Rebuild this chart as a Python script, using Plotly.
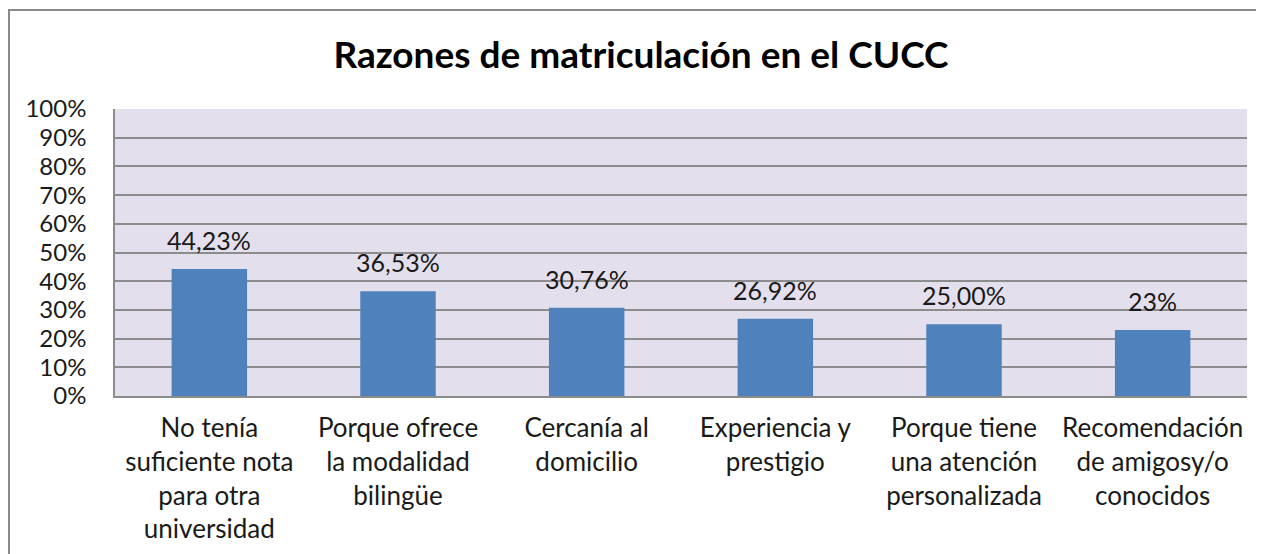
import plotly.graph_objects as go

categories = [
    "No tenía<br>suficiente nota<br>para otra<br>universidad",
    "Porque ofrece<br>la modalidad<br>bilingüe",
    "Cercanía al<br>domicilio",
    "Experiencia y<br>prestigio",
    "Porque tiene<br>una atención<br>personalizada",
    "Recomendación<br>de amigosy/o<br>conocidos",
]
values = [0.4423, 0.3653, 0.3076, 0.2692, 0.2500, 0.23]
value_labels = ["44,23%", "36,53%", "30,76%", "26,92%", "25,00%", "23%"]
title_text = "Razones de matriculación en el CUCC"

FONT = "Lato"
TXT = "#1a1a1a"
GRID = "#8c8c8c"

W, H = 1256, 546
ML, MR, MT, MB = 107, 17, 101, 158
PW, PH = W - ML - MR, H - MT - MB

fig = go.Figure()
fig.add_trace(go.Bar(
    x=categories, y=values,
    marker=dict(color="#4F81BD", line=dict(width=0)),
    hoverinfo="skip",
))

for c, v, t in zip(categories, values, value_labels):
    fig.add_annotation(x=c, y=v, text=t, showarrow=False, yanchor="bottom",
                       yshift=12, font=dict(family=FONT, size=25, color=TXT))

fig.add_shape(type="rect", xref="paper", yref="paper",
              x0=(1 - ML) / PW, x1=1.05, y0=-1.0, y1=(MT + PH - 2) / PH,
              line=dict(color="#8a8a8a", width=2), fillcolor="rgba(0,0,0,0)", layer="below")

fig.update_layout(
    width=W, height=H,
    margin=dict(l=ML, r=MR, t=MT, b=MB, autoexpand=False),
    paper_bgcolor="white",
    plot_bgcolor="#E4DFEC",
    bargap=0.6,
    showlegend=False,
    title=dict(text="<b>" + title_text + "</b>", x=633 / W, xref="container", xanchor="center",
               y=1 - 47 / H, yanchor="middle",
               font=dict(family=FONT, size=37, color="black")),
    font=dict(family=FONT, color=TXT),
)
fig.update_xaxes(
    automargin=False,
    showline=True, linecolor=GRID, linewidth=1.5,
    ticks="outside", ticklen=8, tickcolor="rgba(0,0,0,0)",
    tickfont=dict(family=FONT, size=26, color=TXT),
    showgrid=False,
)
fig.update_yaxes(
    automargin=False,
    range=[0, 1], dtick=0.1, tickformat=".0%",
    showgrid=True, gridcolor=GRID, gridwidth=1.5,
    showline=True, linecolor=GRID, linewidth=1.5,
    ticks="outside", ticklen=22, tickcolor="rgba(0,0,0,0)",
    tickfont=dict(family=FONT, size=24, color=TXT),
    zeroline=False,
)
fig.write_html("out.html")
